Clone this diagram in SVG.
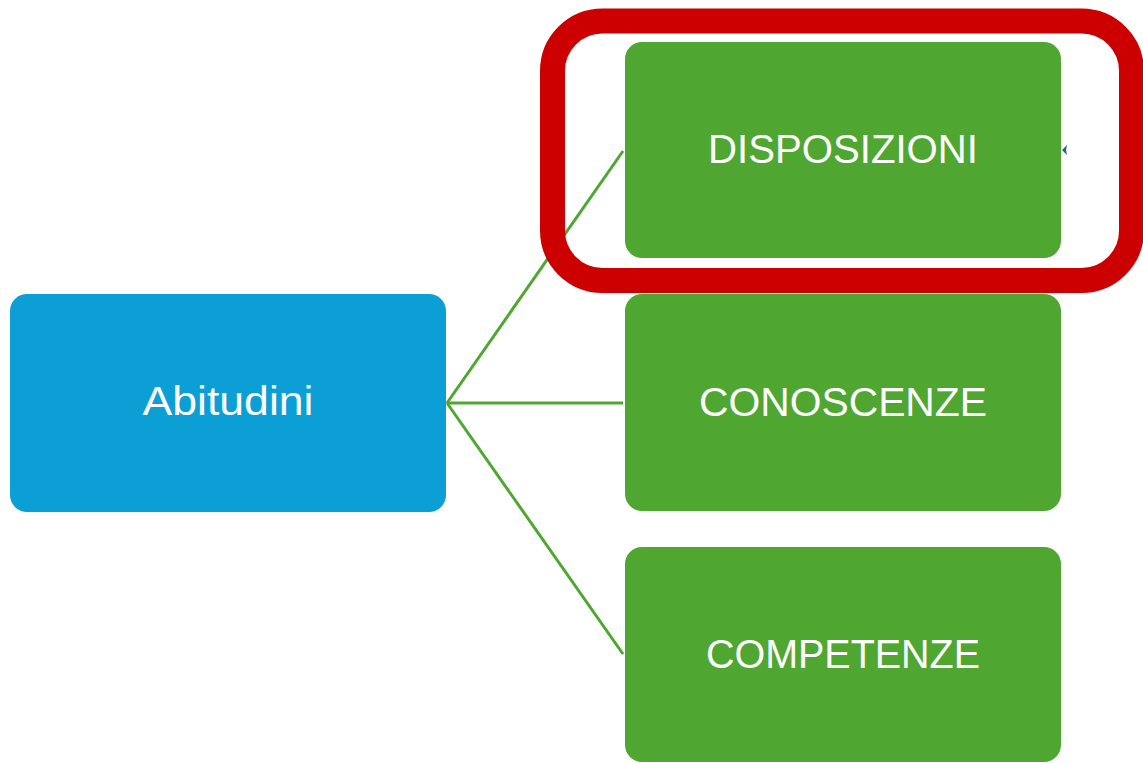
<svg xmlns="http://www.w3.org/2000/svg" width="1143" height="763" viewBox="0 0 1143 763">
<style>
.g{fill:#4fa731}
.b{fill:#0b9fd6}
.t{fill:#ffffff;font-family:"Liberation Sans",Arial,sans-serif;font-size:40px;text-anchor:middle}
.c{stroke:#4fa731;stroke-width:3;fill:none}
</style>
<rect width="1143" height="763" fill="#ffffff"/>
<g id="connectors">
<line class="c" x1="447" y1="403" x2="623" y2="151"/>
<line class="c" x1="447" y1="403" x2="623" y2="403"/>
<line class="c" x1="447" y1="403" x2="623" y2="654"/>
</g>
<g id="abitudini">
<rect class="b" x="10" y="294" width="436" height="218" rx="17"/>
<text class="t" x="228" y="415" textLength="171" lengthAdjust="spacingAndGlyphs">Abitudini</text>
</g>
<g id="disposizioni">
<rect class="g" x="625" y="42" width="436" height="216" rx="17"/>
<text class="t" x="843" y="163" textLength="270" lengthAdjust="spacingAndGlyphs">DISPOSIZIONI</text>
</g>
<g id="conoscenze">
<rect class="g" x="625" y="294" width="436" height="217" rx="17"/>
<text class="t" x="843" y="416" textLength="288" lengthAdjust="spacingAndGlyphs">CONOSCENZE</text>
</g>
<g id="competenze">
<rect class="g" x="625" y="547" width="436" height="215" rx="17"/>
<text class="t" x="843" y="668" textLength="274" lengthAdjust="spacingAndGlyphs">COMPETENZE</text>
</g>
<polygon points="1062,150 1067,145 1066,150 1067,155" fill="#1f5f8b"/>
<g id="highlight">
<rect x="552.5" y="21" width="579" height="259.5" rx="50" fill="none" stroke="#cc0000" stroke-width="25"/>
</g>
</svg>
